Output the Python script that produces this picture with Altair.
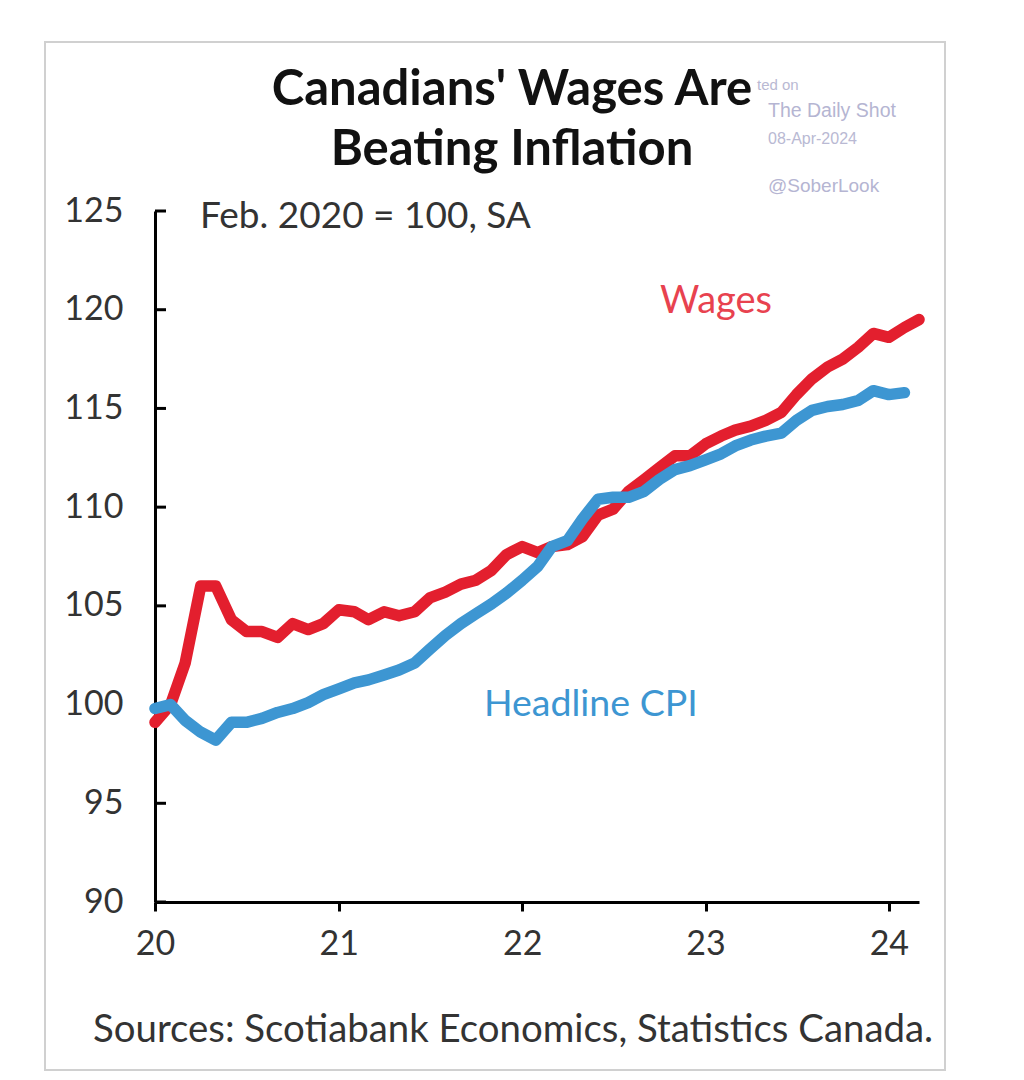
import altair as alt
import pandas as pd

# ---- data ----
wages = [99.1, 100.0, 102.1, 106.0, 106.0, 104.3, 103.7, 103.7, 103.4, 104.1, 103.8, 104.1,
         104.8, 104.7, 104.3, 104.7, 104.5, 104.7, 105.4, 105.7, 106.1, 106.3, 106.8, 107.6,
         108.0, 107.7, 108.0, 108.1, 108.5, 109.6, 109.9, 110.8, 111.4, 112.0, 112.6, 112.6,
         113.2, 113.6, 113.9, 114.1, 114.4, 114.8, 115.7, 116.5, 117.1, 117.5, 118.1, 118.8,
         118.6, 119.1, 119.5]
cpi = [99.8, 100.0, 99.2, 98.6, 98.2, 99.1, 99.1, 99.3, 99.6, 99.8, 100.1, 100.5,
       100.8, 101.1, 101.25, 101.5, 101.75, 102.1, 102.8, 103.5, 104.1, 104.6, 105.1, 105.65,
       106.3, 107.0, 108.0, 108.3, 109.4, 110.4, 110.5, 110.5, 110.8, 111.4, 111.9, 112.1,
       112.4, 112.7, 113.1, 113.4, 113.6, 113.75, 114.4, 114.9, 115.1, 115.2, 115.4, 115.9,
       115.7, 115.8]
wage_months = pd.date_range("2020-01-01", periods=len(wages), freq="MS")
cpi_months = pd.date_range("2020-01-01", periods=len(cpi), freq="MS")
y_ticks = [90, 95, 100, 105, 110, 115, 120, 125]
x_tick_years = [2020, 2021, 2022, 2023, 2024]

title_lines = ["Canadians' Wages Are", "Beating Inflation"]
subtitle = "Feb. 2020 = 100, SA"
source = "Sources: Scotiabank Economics, Statistics Canada."
series_labels = ["Wages", "Headline CPI"]
watermark = ["ted on", "The Daily Shot", "08-Apr-2024", "@SoberLook"]

RED = "#e31f2e"
BLUE = "#3d96d2"
FONT = "Lato"

df = pd.concat([
    pd.DataFrame({"date": wage_months.strftime("%Y-%m-%d"), "value": wages, "series": "Wages"}),
    pd.DataFrame({"date": cpi_months.strftime("%Y-%m-%d"), "value": cpi, "series": "Headline CPI"}),
])

W, H = 764, 691

x_scale = alt.Scale(type="utc", domain=["2020-01-01", "2024-03-01"])
y_scale = alt.Scale(domain=[90, 125], nice=False, zero=False)

base = alt.Chart(df)

lines = base.mark_line(strokeWidth=11.5, strokeCap="round", strokeJoin="round", clip=False).encode(
    x=alt.X("date:T", scale=x_scale, title=None,
            axis=alt.Axis(labelExpr="utcFormat(datum.value, '%y')",
                          values=[alt.DateTime(year=y, month=1, date=1, utc=True) for y in x_tick_years],
                          labelFont=FONT, labelFontSize=34, labelColor="#333333",
                          domainColor="black", domainWidth=3, tickColor="black", tickWidth=3,
                          tickSize=9, labelPadding=16, grid=False, labelFlush=False)),
    y=alt.Y("value:Q", scale=y_scale, title=None,
            axis=alt.Axis(values=y_ticks, labelFont=FONT, labelFontSize=34, labelColor="#333333",
                          domainColor="black", domainWidth=3, ticks=False, labelPadding=32,
                          grid=False)),
    color=alt.Color("series:N", scale=alt.Scale(domain=["Wages", "Headline CPI"], range=[RED, BLUE]),
                    legend=None),
    detail="series:N",
)

ytick_df = pd.DataFrame({"v": y_ticks})
yticks = alt.Chart(ytick_df).mark_rule(color="black", strokeWidth=3).encode(
    y=alt.Y("v:Q", scale=y_scale), x=alt.value(0), x2=alt.value(11))

frame = alt.Chart(pd.DataFrame({"a": [0]})).mark_rect(
    fill="transparent", stroke="#d0d0d0", strokeWidth=2, clip=False).encode(
    x=alt.value(-110), x2=alt.value(790), y=alt.value(-169), y2=alt.value(859))


def text_layer(txt, x, y, size, color, weight="normal", align="left", font=FONT):
    return alt.Chart(pd.DataFrame({"t": [txt]})).mark_text(
        align=align, baseline="alphabetic", fontSize=size, font=font, color=color,
        fontWeight=weight, clip=False).encode(text="t:N", x=alt.value(x), y=alt.value(y))


texts = [
    text_layer(watermark[0], 602, -121, 15, "#b9b9d3", font="Liberation Sans"),
    text_layer(watermark[1], 613, -94, 19.5, "#b5b5d2", font="Liberation Sans"),
    text_layer(watermark[2], 613, -67, 16, "#b9b9d3", font="Liberation Sans"),
    text_layer(watermark[3], 613, -19, 19, "#b5b5d2", font="Liberation Sans"),
    text_layer(title_lines[0], 357, -106, 49, "#111111", weight="bold", align="center"),
    text_layer(title_lines[1], 357, -46, 49, "#111111", weight="bold", align="center"),
    text_layer(subtitle, 45, 17, 37, "#333333"),
    text_layer(series_labels[0], 505, 102, 38, "#e8424f"),
    text_layer(series_labels[1], 329, 505, 37.5, BLUE),
    text_layer(source, -62, 831, 38.4, "#333333"),
]

chart = alt.layer(frame, *texts, yticks, lines).properties(
    width=W, height=H,
    autosize=alt.AutoSizeParams(type="none"),
    padding={"left": 155, "top": 211, "right": 1024 - 155 - W, "bottom": 1080 - 211 - H},
    background="white",
).configure_view(stroke=None)

chart.save("out.html", embed_options={"renderer": "svg", "actions": False})
